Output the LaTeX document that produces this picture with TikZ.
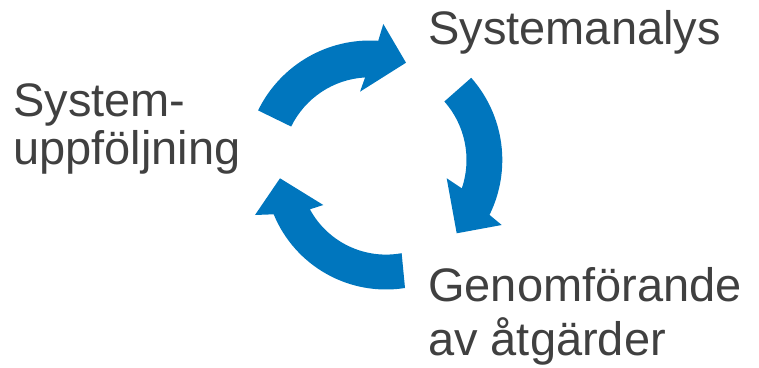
\documentclass[tikz,border=0pt]{standalone}
\usepackage{fontspec}
\setmainfont{Liberation Sans}
\definecolor{arrowblue}{RGB}{0,118,190}
\definecolor{labelgray}{RGB}{64,64,64}
\tikzset{
  cyclearrow/.style={fill=arrowblue, draw=none},
  label/.style={anchor=base west, inner sep=0pt, text=labelgray, font=\fontsize{47}{52}\selectfont}
}
\begin{document}
\begin{tikzpicture}[x=1pt,y=1pt]
\useasboundingbox (0,0) rectangle (759,367);
% centres of the three arcs
\coordinate (C1) at (370,202);
\coordinate (C2) at (378,207);
\coordinate (C3) at (386,199);
% top arrow
\fill[cyclearrow] ([shift={(C1)}]154:124.5) arc[start angle=154, end angle=86.2, radius=124.5]
  -- (383.3,343) -- (406,304.3) -- (360,275.3)
  -- ([shift={(C1)}]93.2:87.7) arc[start angle=93.2, end angle=154, radius=87.7] -- cycle;
% right arrow
\fill[cyclearrow] ([shift={(C2)}]41.4:124.3) arc[start angle=41.4, end angle=-26.2, radius=124.3]
  -- (501.7,142) -- (456.7,133.7) -- (446.7,188.7)
  -- ([shift={(C2)}]-18.7:88.5) arc[start angle=-18.7, end angle=41.4, radius=88.5] -- cycle;
% bottom arrow
\fill[cyclearrow] ([shift={(C3)}]279:121.5) arc[start angle=279, end angle=202.4, radius=121.5]
  -- (255,152) -- (280,188.7) -- (323.3,162)
  -- ([shift={(C3)}]208.5:86.6) arc[start angle=208.5, end angle=280.4, radius=86.6] -- cycle;
% labels
\node[label] (sa) at (428,322) {Systemanalys};
\node[label] (su1) at (13,250.3) {System-};
\node[label] (su2) at (13,202) {uppföljning};
\node[label] (ga1) at (428,65.3) {Genomförande};
\node[label] (ga2) at (428,12) {av åtgärder};
\end{tikzpicture}
\end{document}
